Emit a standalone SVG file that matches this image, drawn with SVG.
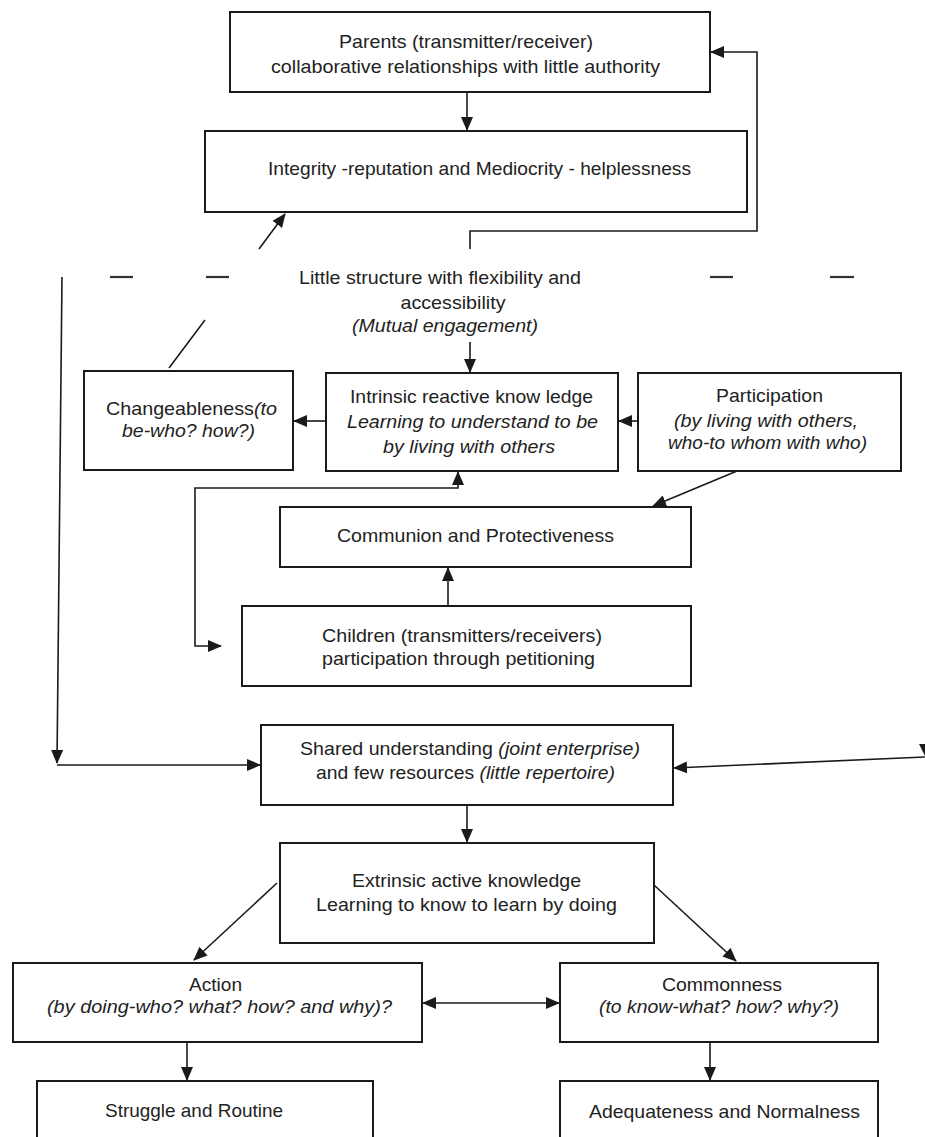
<svg xmlns="http://www.w3.org/2000/svg" width="925" height="1137" viewBox="0 0 925 1137">
<style>
.box{fill:#fff;stroke:#1a1a1a;stroke-width:2}
.ln{fill:none;stroke:#1a1a1a;stroke-width:1.6}
.dash{stroke:#333;stroke-width:2.2}
text{font-family:"Liberation Sans",Arial,sans-serif;font-size:19px;fill:#222;text-anchor:middle}
.it{font-style:italic}
.st{text-anchor:start}
</style>
<defs>
<marker id="ah" markerUnits="userSpaceOnUse" markerWidth="14" markerHeight="12" refX="13" refY="6" orient="auto-start-reverse">
<path d="M0,0 L14,6 L0,12 z" fill="#1a1a1a"/>
</marker>
</defs>
<rect width="925" height="1137" fill="#fff"/>

<g id="connectors">
<path class="ln" d="M467,92 V130" marker-end="url(#ah)"/>
<path class="ln" d="M470,249 V231 H757 V52 H711" marker-end="url(#ah)"/>
<path class="ln" d="M169,368 L205,320"/>
<path class="ln" d="M259,249 L285,214" marker-end="url(#ah)"/>
<line class="dash" x1="110" y1="277" x2="133" y2="277"/>
<line class="dash" x1="206" y1="277" x2="229" y2="277"/>
<line class="dash" x1="710" y1="277" x2="733" y2="277"/>
<line class="dash" x1="830" y1="277" x2="854" y2="277"/>
<path class="ln" d="M470,342 V372" marker-end="url(#ah)"/>
<path class="ln" d="M326,421 H294" marker-end="url(#ah)"/>
<path class="ln" d="M638,421 H619" marker-end="url(#ah)"/>
<path class="ln" d="M737,471 L653,506" marker-end="url(#ah)"/>
<path class="ln" d="M221,646 H195 V488 H458 V472" marker-start="url(#ah)" marker-end="url(#ah)"/>
<path class="ln" d="M448,606 V568" marker-end="url(#ah)"/>
<path class="ln" d="M62,277 L57,763" marker-end="url(#ah)"/>
<path class="ln" d="M57,765 H260" marker-end="url(#ah)"/>
<path class="ln" d="M925,757 L674,768" marker-end="url(#ah)"/>
<path d="M919,744 L932,744 L925.5,757 z" fill="#1a1a1a"/>
<path class="ln" d="M467,805 V842" marker-end="url(#ah)"/>
<path class="ln" d="M277,883 L194,960" marker-end="url(#ah)"/>
<path class="ln" d="M654,885 L736,961" marker-end="url(#ah)"/>
<path class="ln" d="M423,1003 H559" marker-start="url(#ah)" marker-end="url(#ah)"/>
<path class="ln" d="M187,1042 V1080" marker-end="url(#ah)"/>
<path class="ln" d="M710,1042 V1080" marker-end="url(#ah)"/>
</g>

<g id="parents">
<rect class="box" x="230" y="12" width="480" height="80"/>
<text x="466" y="48" textLength="254" lengthAdjust="spacingAndGlyphs">Parents (transmitter/receiver)</text>
<text x="465.5" y="73" textLength="389" lengthAdjust="spacingAndGlyphs">collaborative relationships with little authority</text>
</g>

<g id="integrity">
<rect class="box" x="205" y="131" width="542" height="81"/>
<text x="479.5" y="175" textLength="423" lengthAdjust="spacingAndGlyphs">Integrity -reputation and Mediocrity - helplessness</text>
</g>

<g id="structure">
<text x="440" y="284" textLength="282" lengthAdjust="spacingAndGlyphs">Little structure with flexibility and</text>
<text x="453" y="309" textLength="105" lengthAdjust="spacingAndGlyphs">accessibility</text>
<text class="it" x="445" y="332" textLength="186" lengthAdjust="spacingAndGlyphs">(Mutual engagement)</text>
</g>

<g id="changeableness">
<rect class="box" x="84" y="371" width="209" height="99"/>
<text x="191.5" y="415" textLength="171" lengthAdjust="spacingAndGlyphs">Changeableness<tspan class="it">(to</tspan></text>
<text class="it" x="188.5" y="437" textLength="133" lengthAdjust="spacingAndGlyphs">be-who? how?)</text>
</g>

<g id="intrinsic">
<rect class="box" x="326" y="373" width="292" height="98"/>
<text x="471.5" y="403" textLength="243" lengthAdjust="spacingAndGlyphs">Intrinsic reactive know ledge</text>
<text class="it" x="472.5" y="428" textLength="251" lengthAdjust="spacingAndGlyphs">Learning to understand to be</text>
<text class="it" x="469" y="453" textLength="172" lengthAdjust="spacingAndGlyphs">by living with others</text>
</g>

<g id="participation">
<rect class="box" x="638" y="373" width="263" height="98"/>
<text x="769.5" y="402" textLength="107" lengthAdjust="spacingAndGlyphs">Participation</text>
<text class="it" x="766" y="427" textLength="184" lengthAdjust="spacingAndGlyphs">(by living with others,</text>
<text class="it" x="767.5" y="449" textLength="199" lengthAdjust="spacingAndGlyphs">who-to whom with who)</text>
</g>

<g id="communion">
<rect class="box" x="280" y="507" width="411" height="60"/>
<text x="475.5" y="542" textLength="277" lengthAdjust="spacingAndGlyphs">Communion and Protectiveness</text>
</g>

<g id="children">
<rect class="box" x="242" y="606" width="449" height="80"/>
<text class="st" x="322" y="642" textLength="280" lengthAdjust="spacingAndGlyphs">Children (transmitters/receivers)</text>
<text class="st" x="322" y="665" textLength="273" lengthAdjust="spacingAndGlyphs">participation through petitioning</text>
</g>

<g id="shared">
<rect class="box" x="261" y="725" width="412" height="80"/>
<text x="470" y="755" textLength="340" lengthAdjust="spacingAndGlyphs">Shared understanding <tspan class="it">(joint enterprise)</tspan></text>
<text x="465.5" y="779" textLength="299" lengthAdjust="spacingAndGlyphs">and few resources <tspan class="it">(little repertoire)</tspan></text>
</g>

<g id="extrinsic">
<rect class="box" x="280" y="843" width="374" height="100"/>
<text x="466.5" y="887" textLength="229" lengthAdjust="spacingAndGlyphs">Extrinsic active knowledge</text>
<text x="466.5" y="911" textLength="301" lengthAdjust="spacingAndGlyphs">Learning to know to learn by doing</text>
</g>

<g id="action">
<rect class="box" x="13" y="963" width="409" height="79"/>
<text x="215.5" y="991" textLength="53" lengthAdjust="spacingAndGlyphs">Action</text>
<text class="it" x="219.5" y="1013" textLength="345" lengthAdjust="spacingAndGlyphs">(by doing-who? what? how? and why)?</text>
</g>

<g id="commonness">
<rect class="box" x="560" y="963" width="318" height="79"/>
<text x="722" y="991" textLength="120" lengthAdjust="spacingAndGlyphs">Commonness</text>
<text class="it" x="719" y="1013" textLength="240" lengthAdjust="spacingAndGlyphs">(to know-what? how? why?)</text>
</g>

<g id="struggle">
<rect class="box" x="37" y="1081" width="336" height="80"/>
<text x="194" y="1117" textLength="178" lengthAdjust="spacingAndGlyphs">Struggle and Routine</text>
</g>

<g id="adequateness">
<rect class="box" x="560" y="1081" width="318" height="80"/>
<text x="724.5" y="1118" textLength="271" lengthAdjust="spacingAndGlyphs">Adequateness and Normalness</text>
</g>
</svg>
